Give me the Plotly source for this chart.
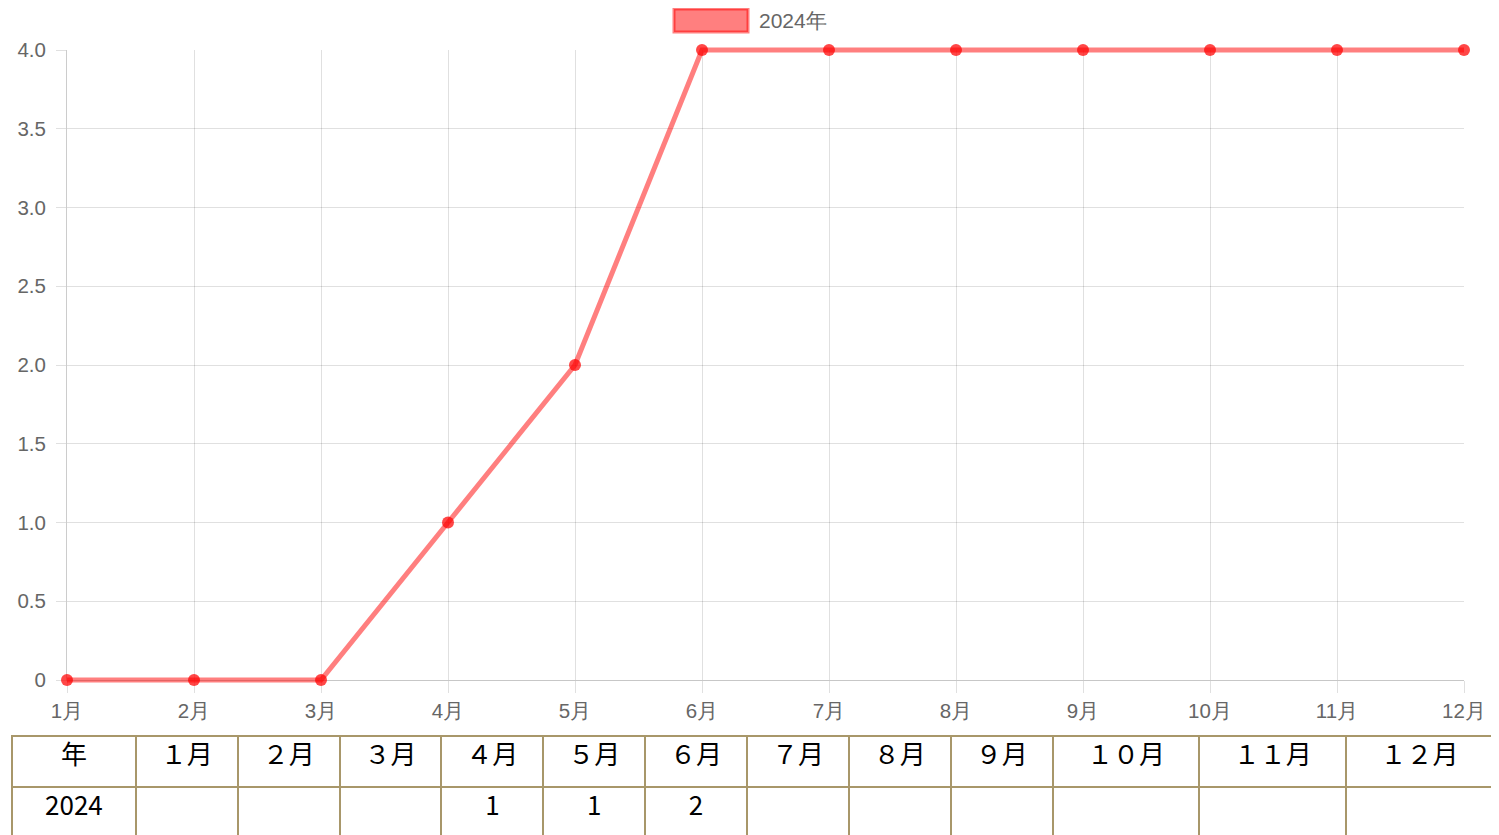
import plotly.graph_objects as go

# ---- data ----
months = ["1月", "2月", "3月", "4月", "5月", "6月", "7月", "8月", "9月", "10月", "11月", "12月"]
series_name = "2024年"
cumulative_values = [0, 0, 0, 1, 2, 4, 4, 4, 4, 4, 4, 4]
y_tick_vals = [0, 0.5, 1.0, 1.5, 2.0, 2.5, 3.0, 3.5, 4.0]
y_tick_text = ["0", "0.5", "1.0", "1.5", "2.0", "2.5", "3.0", "3.5", "4.0"]

table_header = ["年", "１月", "２月", "３月", "４月", "５月", "６月", "７月", "８月", "９月", "１０月", "１１月", "１２月"]
table_row = ["2024", "", "", "", "1", "1", "2", "", "", "", "", "", ""]
table_colwidths = [124, 102, 102, 102, 102, 102, 102, 102, 102, 102, 147, 147, 147]

# ---- layout geometry (screen pixels; page body has an 8px margin) ----
OFF = 8
W, H = 1499 - OFF, 835 - OFF
ML, MR = 12 - OFF, 6
PW = W - ML - MR

def px_x(sx):
    return (sx - OFF - ML) / PW

def px_y(sy):
    return (H - (sy - OFF)) / H

PLOT_L, PLOT_R, PLOT_T, PLOT_B = 67, 1464, 50, 680
X_MIN, X_MAX, Y_MIN, Y_MAX = 0, len(months) - 1, 0, 4
PAD = 20
ppu_x = (PLOT_R - PLOT_L) / (X_MAX - X_MIN)
ppu_y = (PLOT_B - PLOT_T) / (Y_MAX - Y_MIN)

x_idx = list(range(len(months)))

fig = go.Figure()
# empty trace so that the main (grid/axes) subplot is drawn
fig.add_trace(go.Scatter(x=[], y=[], xaxis="x", yaxis="y", showlegend=False, hoverinfo="skip"))
# data trace on an invisible, slightly larger subplot with the same scale (so lines aren't clipped at edges)
fig.add_trace(go.Scatter(
    x=x_idx, y=cumulative_values, name=series_name, mode="lines+markers",
    line=dict(color="rgba(255,0,0,0.5)", width=5),
    marker=dict(color="rgba(255,0,0,0.72)", size=12, line=dict(width=0)),
    cliponaxis=False, showlegend=False,
    xaxis="x2", yaxis="y2",
))

fig.add_trace(go.Table(
    domain=dict(x=[0, 1], y=[0, px_y(736)]),
    columnwidth=table_colwidths,
    header=dict(values=table_header, height=51,
                fill_color="white", line=dict(color="#a8976a", width=2),
                font=dict(family="Noto Sans CJK JP", size=26, color="black"),
                align="center"),
    cells=dict(values=[[v] for v in table_row], height=52,
               fill_color="white", line=dict(color="#a8976a", width=2),
               font=dict(family="Noto Sans CJK JP", size=26, color="black"),
               align="center"),
))

grid = "rgba(0,0,0,0.12)"
tickfont = dict(family="Liberation Sans, Arial", size=20.5, color="#666666")
fig.update_layout(
    width=W, height=H,
    margin=dict(l=ML, r=MR, t=0, b=0),
    paper_bgcolor="white", plot_bgcolor="rgba(0,0,0,0)",
    showlegend=False,
    font=dict(family="Liberation Sans, Arial", color="#666666", size=20),
    xaxis=dict(
        domain=[px_x(PLOT_L), px_x(PLOT_R)], range=[X_MIN, X_MAX],
        tickvals=x_idx, ticktext=months,
        showgrid=True, gridcolor=grid, gridwidth=1,
        ticks="outside", ticklen=12, tickcolor=grid, tickwidth=1,
        showline=True, linecolor="rgba(0,0,0,0.22)", linewidth=1,
        zeroline=False, automargin=False, tickfont=tickfont,
        fixedrange=True, anchor="y",
    ),
    yaxis=dict(
        domain=[px_y(PLOT_B), px_y(PLOT_T)], range=[Y_MIN, Y_MAX],
        tickvals=y_tick_vals, ticktext=y_tick_text,
        showgrid=True, gridcolor=grid, gridwidth=1,
        ticks="outside", ticklen=10, tickcolor=grid, tickwidth=1,
        ticklabelstandoff=6,
        showline=True, linecolor="rgba(0,0,0,0.2)", linewidth=1,
        zeroline=False, automargin=False, tickfont=tickfont,
        fixedrange=True, anchor="x",
    ),
    xaxis2=dict(
        domain=[px_x(PLOT_L - PAD), px_x(PLOT_R + PAD)],
        range=[X_MIN - PAD / ppu_x, X_MAX + PAD / ppu_x],
        visible=False, showgrid=False, zeroline=False, fixedrange=True, anchor="y2",
    ),
    yaxis2=dict(
        domain=[px_y(PLOT_B + PAD), px_y(PLOT_T - PAD)],
        range=[Y_MIN - PAD / ppu_y, Y_MAX + PAD / ppu_y],
        visible=False, showgrid=False, zeroline=False, fixedrange=True, anchor="x2",
    ),
    shapes=[dict(
        type="rect", xref="paper", yref="paper",
        x0=px_x(674), x1=px_x(748), y0=px_y(32), y1=px_y(9),
        fillcolor="rgba(255,0,0,0.5)", line=dict(color="rgba(255,0,0,0.5)", width=3),
    )],
    annotations=[dict(
        text=series_name, xref="paper", yref="paper",
        x=px_x(757), y=px_y(20), xanchor="left", yanchor="middle",
        showarrow=False, font=dict(family="Liberation Sans, Arial", size=21, color="#666666"),
    )],
)

fig.write_html("out.html")
